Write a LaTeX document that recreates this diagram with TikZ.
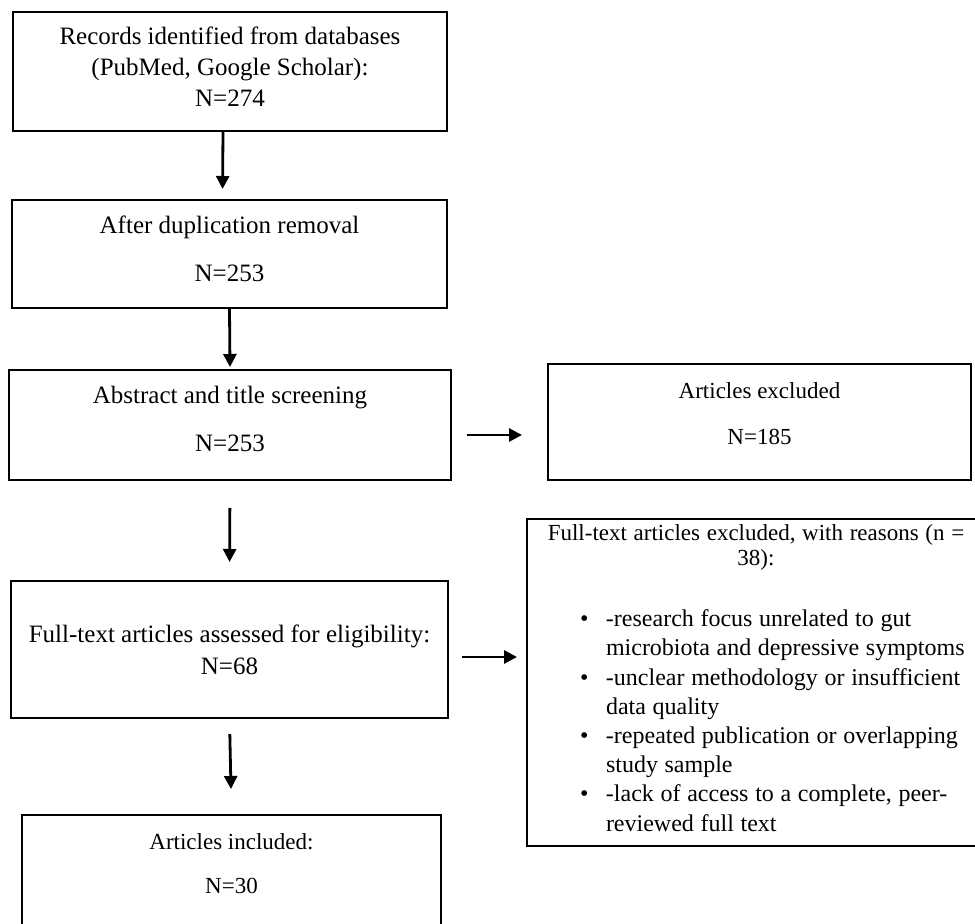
\documentclass[tikz,border=0pt]{standalone}
\usepackage{fontspec}
\setmainfont{Liberation Serif}
\usetikzlibrary{arrows.meta}

% one bulleted reason, continuation lines hang under the text
\newcommand{\reasonline}[1]{\par\noindent\hangindent=39.5pt\hangafter=1%
  \hbox to 39.5pt{\hskip 26.5pt\textbullet\hfil}#1\par}

\begin{document}
\begin{tikzpicture}[x=0.5pt, y=-0.5pt,
  box/.style={draw, line width=1pt, align=center, inner sep=0pt},
  bigtext/.style={font={\fontsize{12.5pt}{15.5pt}\selectfont}},
  smalltext/.style={font={\fontsize{11.5pt}{15pt}\selectfont}},
  arrow/.style={-{Triangle[length=6.5pt,width=6.5pt]}, line width=1.4pt}]
  \useasboundingbox (0,0) rectangle (975,924);

  % records box
  \node[box, bigtext, minimum width=217pt, minimum height=59.5pt, text depth=4.5pt]
    (records) at (230,71.5)
    {Records identified from databases\\(PubMed, Google Scholar):\\N=274};

  % duplicates removed
  \node[box, bigtext, minimum width=217.5pt, minimum height=54pt, text depth=5.5pt]
    (dedup) at (229.5,254) {After duplication removal\\[8.5pt]N=253};

  % screening
  \node[box, bigtext, minimum width=221pt, minimum height=55pt, text depth=6.5pt]
    (screening) at (230,425) {Abstract and title screening\\[8.5pt]N=253};

  % excluded at screening
  \node[box, smalltext, minimum width=211.5pt, minimum height=58pt, text depth=8pt]
    (excluded) at (759.5,422) {Articles excluded\\[8pt]N=185};

  % eligibility
  \node[box, bigtext, minimum width=218.5pt, minimum height=68.5pt, text depth=0pt]
    (assessed) at (229.5,649.5) {Full-text articles assessed for eligibility:\\[0.5pt]N=68};

  % excluded with reasons
  \node[box, align=left, anchor=north, text width=229pt, inner xsep=0pt, inner ysep=3pt]
    (reasons) at (756,518)
    {{\fontsize{11.5pt}{12.5pt}\selectfont\centering
      Full-text articles excluded, with reasons (n =\\38):\par}
     \vspace{15.75pt}
     \fontsize{12pt}{14.6pt}\selectfont
     \reasonline{-research focus unrelated to gut\hfil\break microbiota and depressive symptoms}
     \reasonline{-unclear methodology or insufficient\hfil\break data quality}
     \reasonline{-repeated publication or overlapping\hfil\break study sample}
     \reasonline{-lack of access to a complete, peer-\hfil\break reviewed full text}
     \vspace{4.5pt}\hrule height 0pt};

  % included
  \node[box, smalltext, minimum width=209.5pt, minimum height=55.5pt, text depth=6.5pt]
    (included) at (231.5,870.5) {Articles included:\\[7pt]N=30};

  % arrows down
  \draw[arrow, shorten >=5pt] ([xshift=-3.5pt]records.south) -- ([xshift=-3.5pt]dedup.north);
  \draw[arrow, shorten >=1pt] (dedup.south) -- (screening.north);
  \draw[arrow, shorten <=13.5pt, shorten >=9pt] (screening.south) -- (assessed.north);
  \draw[arrow, shorten <=7.5pt, shorten >=12.5pt] (assessed.south) -- (included.north);

  % arrows right
  \draw[arrow, shorten <=7.5pt, shorten >=12.5pt]
    ([yshift=-5pt]screening.east) -- ([yshift=-5pt]screening.east -| excluded.west);
  \draw[arrow, shorten <=6.5pt, shorten >=4.5pt]
    ([yshift=-3.75pt]assessed.east) -- ([yshift=-3.75pt]assessed.east -| reasons.west);
\end{tikzpicture}
\end{document}
